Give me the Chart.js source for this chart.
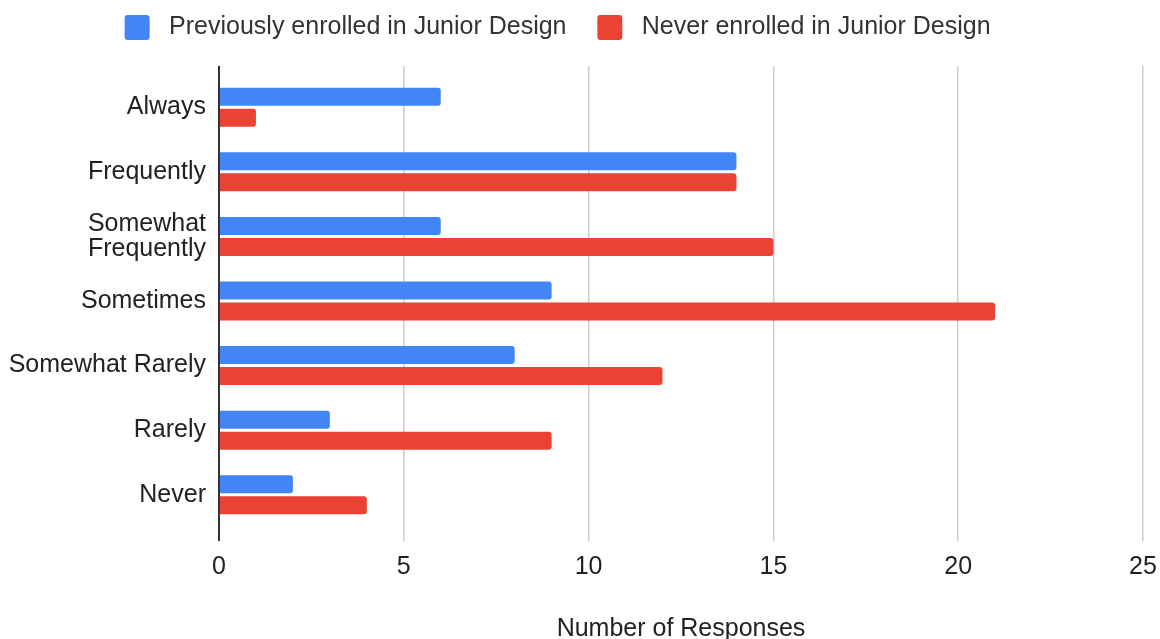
<!DOCTYPE html>
<html>
<head>
<meta charset="utf-8">
<script src="https://cdn.jsdelivr.net/npm/chart.js@4.4.1/dist/chart.umd.min.js"></script>
<style>
  html, body { margin: 0; padding: 0; background: #fff; }
  #wrap { width: 1160px; height: 639px; }
</style>
</head>
<body>
<div id="wrap"><canvas id="chart"></canvas></div>
<script>
// datos
const categories = ['Always', 'Frequently', ['Somewhat', 'Frequently'], 'Sometimes', 'Somewhat Rarely', 'Rarely', 'Never'];
const previouslyEnrolled = [6, 14, 6, 9, 8, 3, 2];
const neverEnrolled = [1, 14, 15, 21, 12, 9, 4];
const seriesNames = ['Previously enrolled in Junior Design', 'Never enrolled in Junior Design'];
const xTickStep = 5;
const xMax = 25;

const FONT = '"Liberation Sans", Arial, sans-serif';
const TEXT = '#222222';

// alarga las líneas de la cuadrícula un poco por encima del área
const extendGrid = {
  id: 'extendGrid',
  afterInit(chart) {
    // más espacio debajo de la leyenda
    const legend = chart.legend;
    const origFit = legend.fit;
    legend.fit = function () {
      origFit.call(legend);
      legend.height += 25;
    };
  },
  beforeDatasetsDraw(chart) {
    const { ctx, chartArea, scales: { x } } = chart;
    ctx.save();
    x.ticks.forEach(t => {
      const lw = t.value === 0 ? 2 : 1.5;
      const hw = lw / 2;
      // mismo redondeo que usa Chart.js para la cuadrícula
      const px = Math.round(x.getPixelForValue(t.value) - hw) + hw;
      ctx.strokeStyle = t.value === 0 ? '#333333' : '#cccccc';
      ctx.lineWidth = lw;
      ctx.beginPath();
      ctx.moveTo(px, chartArea.top - 9);
      ctx.lineTo(px, chartArea.top);
      ctx.stroke();
    });
    ctx.restore();
  }
};

const ctx = document.getElementById('chart').getContext('2d');

const myChart = new Chart(ctx, {
  type: 'bar',
  data: {
    labels: categories,
    datasets: [{
      label: seriesNames[0],
      data: previouslyEnrolled,
      backgroundColor: '#4285F4',
      borderRadius: 3,
      borderSkipped: 'start',
      categoryPercentage: 0.65,
      barPercentage: 0.857
    }, {
      label: seriesNames[1],
      data: neverEnrolled,
      backgroundColor: '#EA4335',
      borderRadius: 3,
      borderSkipped: 'start',
      categoryPercentage: 0.65,
      barPercentage: 0.857
    }]
  },
  options: {
    indexAxis: 'y',
    responsive: true,
    maintainAspectRatio: false,
    animation: false,
    layout: { padding: { top: 5, right: 17, bottom: 0, left: 0 } },
    plugins: {
      legend: {
        position: 'top',
        labels: {
          color: '#333333',
          font: { family: FONT, size: 25 },
          boxWidth: 25,
          boxHeight: 25,
          useBorderRadius: true,
          borderRadius: 3,
          padding: 10,
          generateLabels(chart) {
            const items = Chart.defaults.plugins.legend.labels.generateLabels(chart);
            items[0].text = ' ' + items[0].text + '   ';
            items[1].text = ' ' + items[1].text + '    ';
            items.forEach(it => { it.lineWidth = 0; });
            return items;
          }
        }
      },
      tooltip: { enabled: false }
    },
    scales: {
      x: {
        min: 0,
        max: xMax,
        ticks: {
          stepSize: xTickStep,
          color: TEXT,
          font: { family: FONT, size: 25 },
          padding: 11
        },
        grid: {
          color: c => (c.tick && c.tick.value === 0 ? '#333333' : '#cccccc'),
          lineWidth: c => (c.tick && c.tick.value === 0 ? 2 : 1.5),
          tickLength: 14,
          drawTicks: true
        },
        border: { display: false },
        title: {
          display: true,
          text: 'Number of Responses',
          color: TEXT,
          font: { family: FONT, size: 25, lineHeight: 1 },
          padding: { top: 0, bottom: -3 }
        },
        afterFit(scale) {
          scale.height = 112;
          scale.paddingLeft = 0;
          scale.paddingRight = 0;
        }
      },
      y: {
        ticks: {
          color: TEXT,
          font: { family: FONT, size: 25, lineHeight: 1 },
          padding: 13
        },
        grid: { display: false, drawTicks: false },
        border: { display: false },
        afterFit(scale) { scale.width = 219; }
      }
    }
  },
  plugins: [extendGrid]
});
</script>
</body>
</html>
